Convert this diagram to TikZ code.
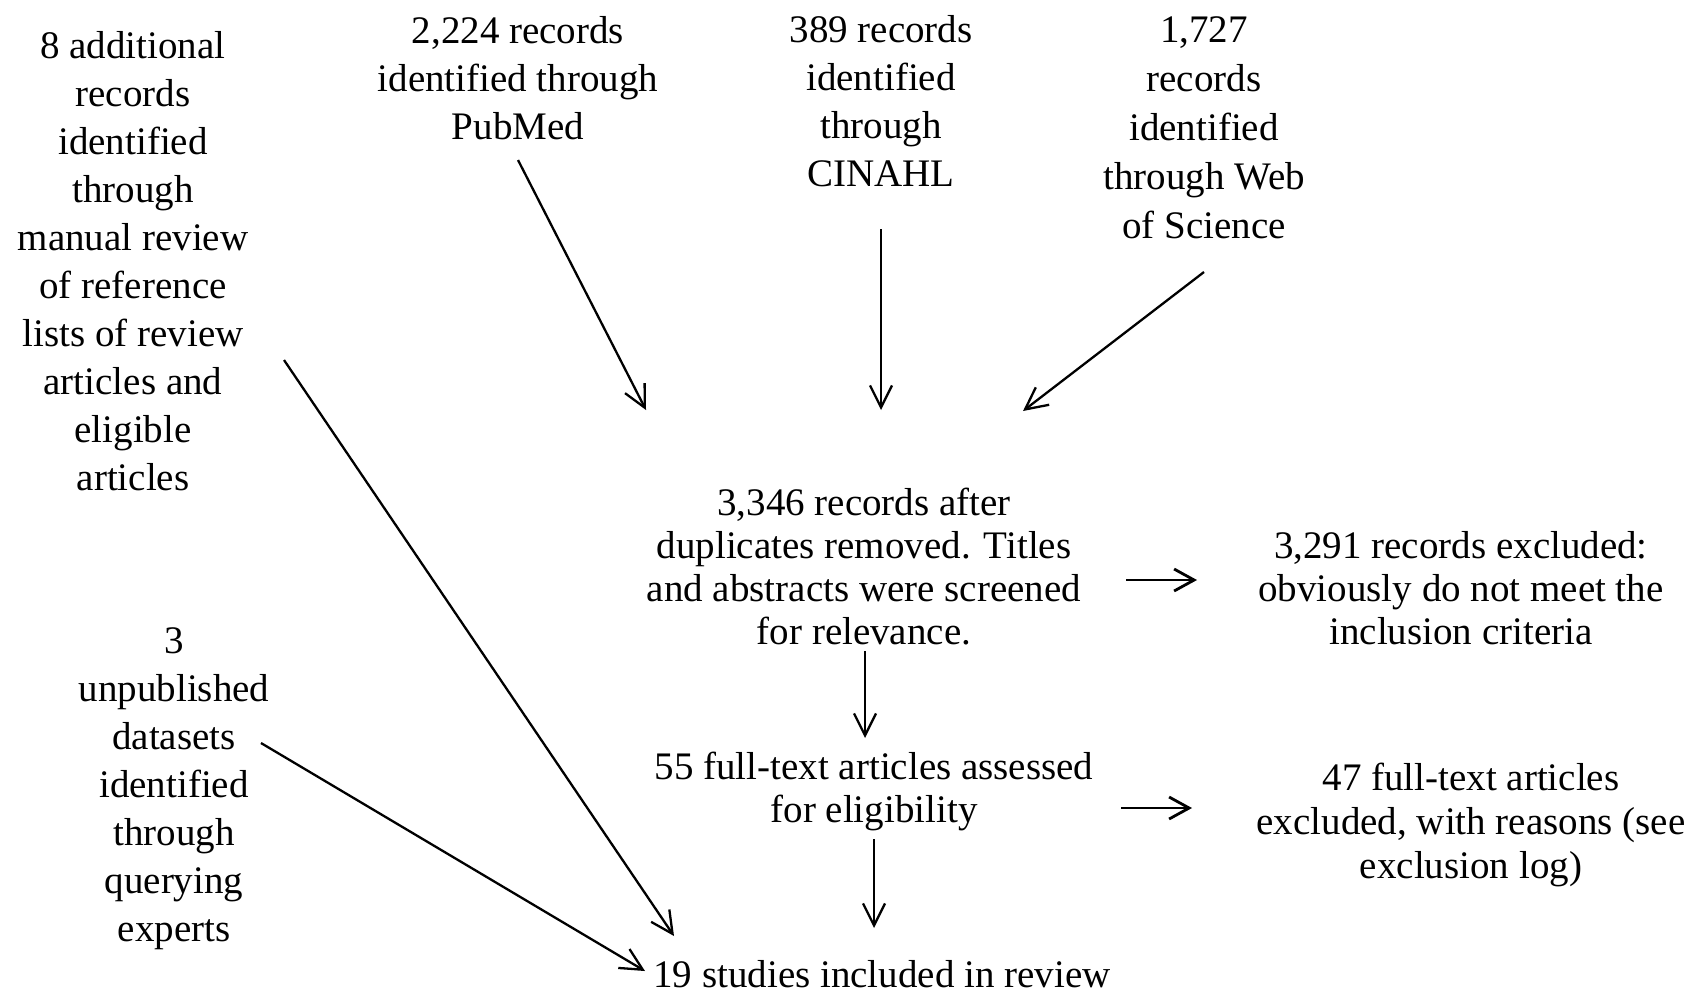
\documentclass[tikz,border=0pt]{standalone}
\usepackage{fontspec}
\setmainfont{Liberation Serif}
\usetikzlibrary{arrows.meta}
\begin{document}
\begin{tikzpicture}[x=0.5pt,y=-0.5pt,
  txt/.style={align=center, inner sep=0pt, font=\fontsize{19.5}{24}\selectfont},
  txtw/.style={align=center, inner sep=0pt, font=\fontsize{19.5}{24.5}\selectfont},
  txtt/.style={align=center, inner sep=0pt, font=\fontsize{19.5}{21.5}\selectfont},
  arr/.style={-{Straight Barb[length=11pt,width=11pt]}, line width=1.15pt},
  arrh/.style={-{Straight Barb[length=10pt,width=11pt]}, line width=1.4pt}]
\useasboundingbox (0,0) rectangle (1701,993);

\node[txt] (src8) at (133,261) {8 additional\\records\\identified\\through\\manual review\\of reference\\lists of review\\articles and\\eligible\\articles};
\node[txt] (pub) at (518,78) {2,224 records\\identified through\\PubMed};
\node[txt] (cin) at (881,101) {389 records\\identified\\through\\CINAHL};
\node[txtw] (wos) at (1204,128) {1,727\\records\\identified\\through Web\\of Science};
\node[txtt] (main) at (864,567) {3,346 records after\\duplicates removed. Titles\\and abstracts were screened\\for relevance.};
\node[txtt] (exc1) at (1461,588) {3,291 records excluded:\\obviously do not meet the\\inclusion criteria};
\node[txtt] (full) at (874,791) {55 full-text articles assessed\\for eligibility};
\node[align=center, inner sep=0pt, font=\fontsize{19.5}{22}\selectfont] (exc2) at (1471,825) {47 full-text articles\\excluded, with reasons (see\\exclusion log)};
\node[txt] (data3) at (174,789) {3\\unpublished\\datasets\\identified\\through\\querying\\experts};
\node[txt] (incl) at (882,974) {19 studies included in review};

\coordinate (a1s) at (518,160);  \coordinate (a1e) at (646,410);
\coordinate (a2s) at (881,229);  \coordinate (a2e) at (881,410);
\coordinate (a3s) at (1204,272); \coordinate (a3e) at (1023,411);
\coordinate (a4s) at (284,360);  \coordinate (a4e) at (674,936);
\coordinate (a5s) at (261,743);  \coordinate (a5e) at (645,971);
\coordinate (a6s) at (865,651);  \coordinate (a6e) at (865,738);
\coordinate (a7s) at (874,839);  \coordinate (a7e) at (874,928);
\coordinate (a8s) at (1126,580); \coordinate (a8e) at (1197,580);
\coordinate (a9s) at (1121,808); \coordinate (a9e) at (1192,808);

\draw[arr] (a1s) -- (a1e);
\draw[arr] (a2s) -- (a2e);
\draw[arr] (a3s) -- (a3e);
\draw[arr] (a4s) -- (a4e);
\draw[arr] (a5s) -- (a5e);
\draw[arr] (a6s) -- (a6e);
\draw[arr] (a7s) -- (a7e);
\draw[arrh] (a8s) -- (a8e);
\draw[arrh] (a9s) -- (a9e);
\end{tikzpicture}
\end{document}
